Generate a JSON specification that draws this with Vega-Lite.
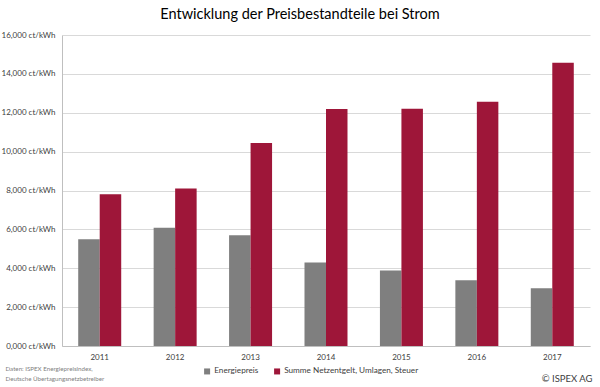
{
  "$schema": "https://vega.github.io/schema/vega-lite/v6.json",
  "width": 528,
  "height": 311,
  "autosize": {"type": "none"},
  "padding": {"left": 62, "top": 35, "right": 10, "bottom": 41},
  "background": "white",
  "config": {"font": "Lato", "view": {"stroke": null}},
  "title": {
    "text": "Entwicklung der Preisbestandteile bei Strom",
    "fontSize": 14.5,
    "fontWeight": "normal",
    "color": "#000000",
    "anchor": "middle",
    "dx": -26,
    "offset": 9
  },
  "data": {
    "values": [
      {"year": "2011", "series": "Energiepreis", "value": 5.49},
      {"year": "2011", "series": "Summe Netzentgelt, Umlagen, Steuer", "value": 7.81},
      {"year": "2012", "series": "Energiepreis", "value": 6.09},
      {"year": "2012", "series": "Summe Netzentgelt, Umlagen, Steuer", "value": 8.1},
      {"year": "2013", "series": "Energiepreis", "value": 5.7},
      {"year": "2013", "series": "Summe Netzentgelt, Umlagen, Steuer", "value": 10.44},
      {"year": "2014", "series": "Energiepreis", "value": 4.29},
      {"year": "2014", "series": "Summe Netzentgelt, Umlagen, Steuer", "value": 12.19},
      {"year": "2015", "series": "Energiepreis", "value": 3.88},
      {"year": "2015", "series": "Summe Netzentgelt, Umlagen, Steuer", "value": 12.2},
      {"year": "2016", "series": "Energiepreis", "value": 3.38},
      {"year": "2016", "series": "Summe Netzentgelt, Umlagen, Steuer", "value": 12.57},
      {"year": "2017", "series": "Energiepreis", "value": 2.97},
      {"year": "2017", "series": "Summe Netzentgelt, Umlagen, Steuer", "value": 14.57}
    ]
  },
  "mark": {"type": "bar"},
  "encoding": {
    "x": {
      "field": "year",
      "type": "nominal",
      "scale": {"paddingInner": 0.43, "paddingOuter": 0.215},
      "axis": {
        "labelAngle": 0,
        "labelFontSize": 8,
        "labelColor": "#404040",
        "labelPadding": 7,
        "ticks": false,
        "domainColor": "#BFBFBF",
        "title": "© ISPEX AG",
        "titleX": 530,
        "titleY": 35,
        "titleAlign": "right",
        "titleAnchor": null,
        "titleBaseline": "alphabetic",
        "titleFontSize": 9.5,
        "titleFontWeight": "normal",
        "titleColor": "#404040"
      }
    },
    "xOffset": {
      "field": "series",
      "type": "nominal",
      "sort": ["Energiepreis", "Summe Netzentgelt, Umlagen, Steuer"]
    },
    "y": {
      "field": "value",
      "type": "quantitative",
      "scale": {"domain": [0, 16], "nice": false},
      "axis": {
        "values": [0, 2, 4, 6, 8, 10, 12, 14, 16],
        "labelExpr": "replace(format(datum.value, '.3f'), '.', ',') + ' ct/kWh'",
        "labelFontSize": 8,
        "labelColor": "#404040",
        "labelPadding": 7,
        "ticks": false,
        "domainColor": "#BFBFBF",
        "gridColor": "#D9D9D9",
        "title": ["Daten: ISPEX Energiepreisindex,", "Deutsche Übertagungsnetzbetreiber"],
        "titleAngle": 0,
        "titleX": -57,
        "titleY": 330,
        "titleAlign": "left",
        "titleAnchor": null,
        "titleBaseline": "top",
        "titleFontSize": 6.2,
        "titleFontWeight": "normal",
        "titleColor": "#808080",
        "titleLineHeight": 10
      }
    },
    "color": {
      "field": "series",
      "type": "nominal",
      "scale": {
        "domain": ["Energiepreis", "Summe Netzentgelt, Umlagen, Steuer"],
        "range": ["#7F7F7F", "#9E1639"]
      },
      "legend": {
        "orient": "none",
        "legendX": 141,
        "legendY": 332,
        "direction": "horizontal",
        "title": null,
        "symbolType": "square",
        "symbolSize": 36,
        "labelFontSize": 8.2,
        "labelColor": "#404040",
        "labelOffset": 3,
        "columnPadding": 14
      }
    }
  }
}
